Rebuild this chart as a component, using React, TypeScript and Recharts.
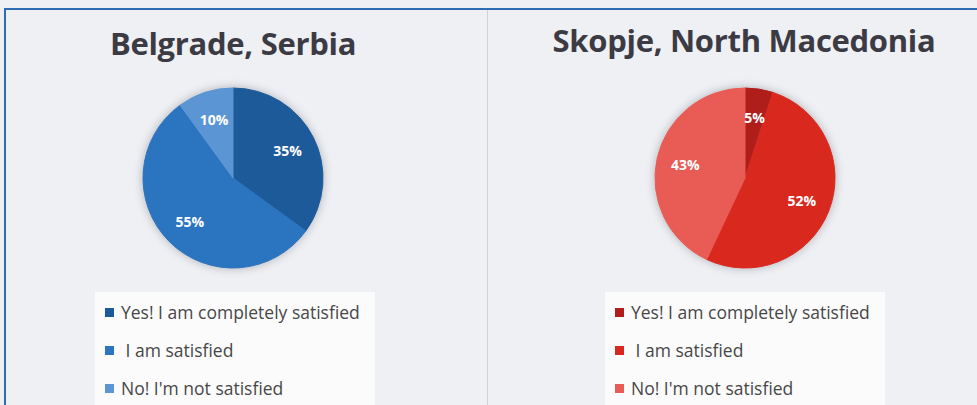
import { Pie, PieChart, Cell, Legend } from "recharts"

const categories = ["Yes! I am completely satisfied", " I am satisfied", "No! I'm not satisfied"]
const belgradeValues = [35, 55, 10]
const skopjeValues = [5, 52, 43]
const belgradeColors = ["#1d5a9a", "#2b74bf", "#5b95d3"]
const skopjeColors = ["#b01e1b", "#d9291f", "#e85c55"]

const RADIAN = Math.PI / 180

const renderLabel = ({ cx, cy, midAngle, outerRadius, value }) => {
  const r = outerRadius * 0.68
  const x = cx + r * Math.cos(-midAngle * RADIAN)
  const y = cy + r * Math.sin(-midAngle * RADIAN)
  return (
    <text x={x} y={y} fill="#fff" textAnchor="middle" dominantBaseline="central"
      fontFamily="Open Sans" fontWeight="bold" fontSize={14}>
      {value}%
    </text>
  )
}

const makeLegend = (colors) => () => (
  <div style={{ background: "#fbfbfc", width: 280, height: 120, paddingTop: 1, boxSizing: "border-box" }}>
    {categories.map((name, i) => (
      <div key={i} style={{ display: "flex", alignItems: "center", height: 38, paddingLeft: 10 }}>
        <span style={{ width: 9, height: 9, background: colors[i], display: "inline-block", marginRight: 7 }} />
        <span style={{ fontFamily: "Open Sans", fontSize: 17.5, color: "#474747", whiteSpace: "pre", letterSpacing: 0 }}>{name}</span>
      </div>
    ))}
  </div>
)

function CityPie({ title, values, colors, left, width, cx, titleX, titleTop, legendX }) {
  const data = categories.map((name, i) => ({ name, value: values[i] }))
  return (
    <div style={{ position: "absolute", left, top: 0, width, height: 405 }}>
      <div style={{ position: "absolute", left: 0, width: titleX * 2, top: titleTop, textAlign: "center",
        fontFamily: "Open Sans", fontWeight: "bold", fontSize: 31, color: "#3c3b44", letterSpacing: -0.3 }}>
        {title}
      </div>
      <PieChart width={width} height={405} margin={{ top: 0, right: 0, bottom: 0, left: 0 }}>
        <Pie
          data={data}
          cx={cx}
          cy={178}
          outerRadius={90}
          startAngle={90}
          endAngle={-270}
          dataKey="value"
          label={renderLabel}
          labelLine={false}
          isAnimationActive={false}
        >
          {data.map((entry, index) => (
            <Cell key={`cell-${index}`} fill={colors[index]} stroke={colors[index]} />
          ))}
        </Pie>
        <Legend
          layout="vertical"
          content={makeLegend(colors)}
          wrapperStyle={{ position: "absolute", left: legendX, top: 292, width: 280, bottom: "auto" }}
        />
      </PieChart>
    </div>
  )
}

export default function App() {
  return (
    <div style={{ position: "absolute", left: 0, top: 0, width: 977, height: 405, background: "#eef0f4", overflow: "hidden" }}>
      <style>{`.recharts-pie { filter: drop-shadow(0 0 5px rgba(60,60,70,0.35)); }`}</style>
      <div style={{ position: "absolute", left: 4, top: 8, width: 980, height: 400, borderTop: "2px solid #2f6db3", borderLeft: "2px solid #2f6db3" }} />
      <div style={{ position: "absolute", left: 487, top: 10, width: 1, height: 400, background: "#cfd1d6" }} />
      <CityPie title="Belgrade, Serbia" values={belgradeValues} colors={belgradeColors}
        left={0} width={487} cx={233} titleX={233} titleTop={22} legendX={95} />
      <CityPie title="Skopje, North Macedonia" values={skopjeValues} colors={skopjeColors}
        left={488} width={489} cx={257} titleX={256} titleTop={19} legendX={117} />
    </div>
  )
}
